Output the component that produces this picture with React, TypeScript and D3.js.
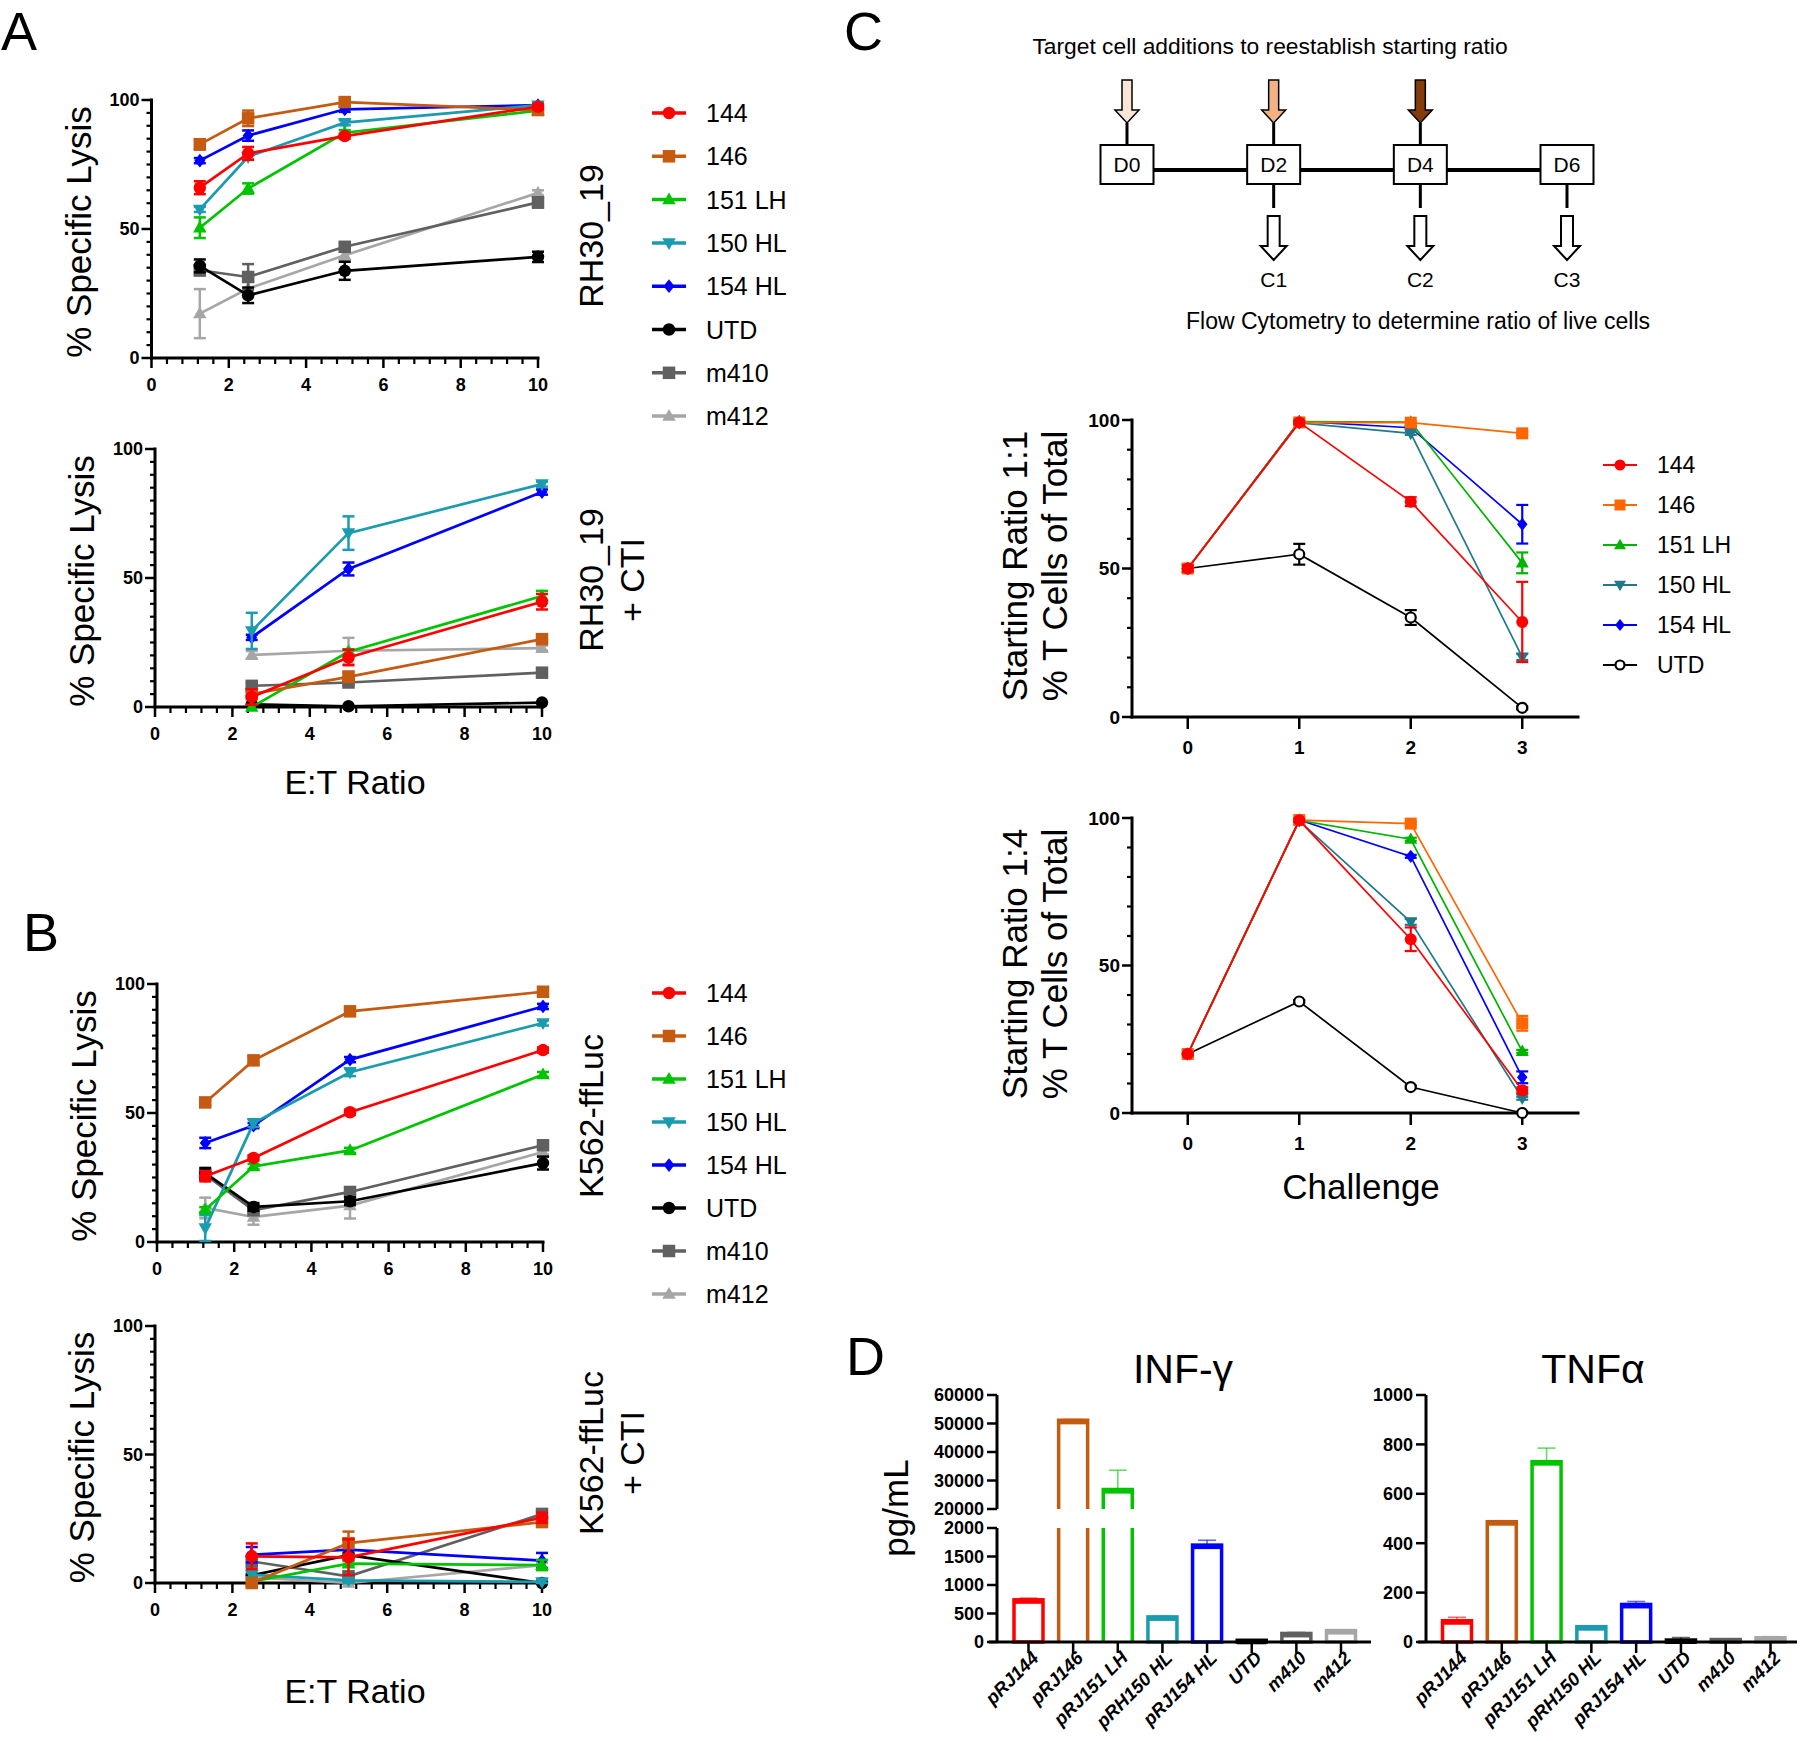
import React from 'react';
import * as d3 from 'd3';

const FONT = "'Liberation Sans', Arial, Helvetica, sans-serif";

// ---------------- DATA ----------------
const seriesNames = ['144', '146', '151 LH', '150 HL', '154 HL', 'UTD', 'm410', 'm412'];
const seriesColors = ['#ff0000', '#c55a11', '#00c400', '#1a9bb0', '#0000ff', '#000000', '#606060', '#a6a6a6'];
const seriesShapes = ['circle', 'square', 'triangle', 'triangleDown', 'diamond', 'circle', 'square', 'triangle'];

const etFull = [1.25, 2.5, 5, 10];
const etCti = [2.5, 5, 10];

const rh30Mean = [
  [66, 79.3, 86, 97.4],
  [82.8, 92.9, 99.2, 96.1],
  [50.5, 65.7, 87.3, 95.9],
  [57.6, 78, 91.2, 98],
  [76.5, 86.2, 96.4, 98],
  [35.7, 24.3, 33.8, 39.2],
  [34, 31.4, 43.1, 60.3],
  [17.2, 26.9, 39.8, 64],
];
const rh30Err = [
  [2.5, 2.5, 1, 1],
  [2, 3, 1, 1],
  [4, 2, 1, 1],
  [1, 1, 1, 1],
  [1, 2, 1, 1],
  [2.5, 3, 3.5, 2],
  [2, 5, 1.5, 2],
  [9.5, 3, 2, 1],
];
const rh30CtiMean = [
  [3.9, 19.2, 40.8],
  [5, 11.7, 26.3],
  [0, 21.4, 43],
  [29.5, 67.4, 86.4],
  [27, 53.5, 83.3],
  [1, 0.3, 1.7],
  [8.2, 9.5, 13.3],
  [20.2, 21.8, 22.8],
];
const rh30CtiErr = [
  [3, 3, 3],
  [1, 2, 1],
  [0, 1, 2],
  [7, 6.5, 1],
  [1, 2.5, 1],
  [0, 0, 0],
  [1, 1, 1.5],
  [1.5, 5, 1],
];
const k562Mean = [
  [25.5, 32.6, 50.3, 74.4],
  [54.1, 70.4, 89.4, 97],
  [12.5, 29.3, 35.5, 64.9],
  [5.4, 46.1, 65.8, 84.9],
  [38.4, 45.1, 70.7, 91.3],
  [26.7, 13.6, 15.8, 30.6],
  [26.1, 12.3, 19.4, 37.5],
  [13.2, 9.7, 14.1, 34.9],
];
const k562Err = [
  [2, 1, 1, 1],
  [1, 1.5, 1, 1],
  [1, 1, 1, 1],
  [5, 1.5, 1.5, 1],
  [2, 1, 1, 1],
  [2, 1.5, 1.5, 2.5],
  [1, 1, 1.5, 1.5],
  [4, 3, 5, 1],
];
const k562CtiMean = [
  [10.4, 10, 25.4],
  [0, 15.5, 23.7],
  [0.6, 7.5, 7],
  [3.2, 1, 0.4],
  [11, 13, 8.7],
  [3, 10.8, 0],
  [8.4, 2.6, 26.8],
  [2.2, 0, 6.9],
];
const k562CtiErr = [
  [5, 7, 2],
  [0, 4.5, 1],
  [0, 1, 2],
  [1, 1, 1],
  [3, 4, 3],
  [0, 1, 0],
  [2, 1, 2],
  [1, 0, 1],
];

const cNames = ['144', '146', '151 LH', '150 HL', '154 HL', 'UTD'];
const cColors = ['#ff0000', '#ff6600', '#00b400', '#1f7a8c', '#0000ff', '#000000'];
const cShapes = ['circle', 'square', 'triangle', 'triangleDown', 'diamond', 'openCircle'];
const challenges = [0, 1, 2, 3];
const ratio11Mean = [
  [50, 99.2, 72.5, 32],
  [50, 99.2, 99.1, 95.5],
  [50, 99.5, 99.3, 51.9],
  [50, 99, 95.5, 20.2],
  [50, 99.5, 97.4, 64.9],
  [50, 54.8, 33.5, 3.1],
];
const ratio11Err = [
  [1, 0.5, 1.5, 13.5],
  [0, 0, 0.5, 0.5],
  [0, 0, 0, 3.5],
  [0, 0, 0.5, 1],
  [0, 0, 0.5, 6.5],
  [0, 3.5, 2.5, 0.5],
];
const ratio14Mean = [
  [20, 99.2, 58.9, 7.7],
  [20, 99.3, 98.1, 30.4],
  [20, 99.2, 92.8, 20.9],
  [20, 99, 64.8, 5],
  [20, 99.3, 87, 12.1],
  [20, 37.8, 8.8, 0],
];
const ratio14Err = [
  [0.5, 0.5, 4, 1],
  [0, 0, 0.5, 2.5],
  [0, 0, 0.5, 0.5],
  [0, 0, 1, 0.5],
  [0, 0, 0.5, 2],
  [0, 0.5, 0.5, 0.5],
];

const cytoCats = ['pRJ144', 'pRJ146', 'pRJ151 LH', 'pRH150 HL', 'pRJ154 HL', 'UTD', 'm410', 'm412'];
const cytoColors = ['#ff0000', '#c55a11', '#00c400', '#1a9bb0', '#0000ff', '#000000', '#606060', '#a6a6a6'];
const infMean = [740, 51100, 26800, 440, 1700, 30, 150, 200];
const infErr = [30, 300, 6800, 15, 85, 5, 20, 10];
const tnfMean = [86, 487, 730, 62, 152, 8, 10, 17];
const tnfErr = [14, 4, 55, 3, 12, 10, 3, 5];

const infLowTicks = [0, 500, 1000, 1500, 2000];
const infHighTicks = [20000, 30000, 40000, 50000, 60000];
const tnfTicks = [0, 200, 400, 600, 800, 1000];

const diagramDays = ['D0', 'D2', 'D4', 'D6'];
const additionColors = ['#fbe5d6', '#f4b183', '#843c0c', null];
const readouts = [null, 'C1', 'C2', 'C3'];

// ---------------- HELPERS ----------------
function Marker({ shape, x, y, size, color }: any) {
  const s = size;
  if (shape === 'circle') return <circle cx={x} cy={y} r={s / 2} fill={color} />;
  if (shape === 'openCircle')
    return <circle cx={x} cy={y} r={s / 2 - 1} fill="#fff" stroke={color} strokeWidth={2.2} />;
  if (shape === 'square') return <rect x={x - s / 2} y={y - s / 2} width={s} height={s} fill={color} />;
  if (shape === 'triangle') {
    const h = s * 0.95;
    return <path d={`M${x},${y - h * 0.6}L${x + s / 2 + 0.5},${y + h * 0.4}L${x - s / 2 - 0.5},${y + h * 0.4}Z`} fill={color} />;
  }
  if (shape === 'triangleDown') {
    const h = s * 0.95;
    return <path d={`M${x},${y + h * 0.6}L${x + s / 2 + 0.5},${y - h * 0.4}L${x - s / 2 - 0.5},${y - h * 0.4}Z`} fill={color} />;
  }
  if (shape === 'diamond') {
    const r = s * 0.55;
    return <path d={`M${x},${y - r}L${x + r * 0.8},${y}L${x},${y + r}L${x - r * 0.8},${y}Z`} fill={color} />;
  }
  return null;
}

function LineChart(p: any) {
  const x = d3.scaleLinear().domain(p.xDomain).range([p.left, p.right]);
  const y = d3.scaleLinear().domain([0, 100]).range([p.bottom, p.top]);
  const line = d3
    .line<[number, number]>()
    .x((d) => x(d[0]))
    .y((d) => y(d[1]));
  const tickFont = p.tickFont || 18;
  return (
    <g>
      <line x1={x(p.xDomain[0])} x2={x(p.xDomain[1])} y1={p.bottom} y2={p.bottom} stroke="#000" strokeWidth={3} strokeLinecap="square" />
      <line x1={p.left} x2={p.left} y1={p.top} y2={p.bottom} stroke="#000" strokeWidth={3} strokeLinecap="square" />
      {p.yMinor.map((v: number) => (
        <line key={'ym' + v} x1={p.left - 5} x2={p.left} y1={y(v)} y2={y(v)} stroke="#000" strokeWidth={2.2} />
      ))}
      {p.yMajor.map((v: number) => (
        <g key={'yM' + v}>
          <line x1={p.left - 10} x2={p.left} y1={y(v)} y2={y(v)} stroke="#000" strokeWidth={2.5} />
          <text x={p.left - 12} y={y(v)} dy="0.36em" textAnchor="end" fontSize={tickFont} fontWeight="bold">
            {v}
          </text>
        </g>
      ))}
      {p.xMinor.map((v: number) => (
        <line key={'xm' + v} x1={x(v)} x2={x(v)} y1={p.bottom} y2={p.bottom + 6} stroke="#000" strokeWidth={2.2} />
      ))}
      {p.xMajor.map((v: number) => (
        <g key={'xM' + v}>
          <line x1={x(v)} x2={x(v)} y1={p.bottom} y2={p.bottom + p.xTickLen} stroke="#000" strokeWidth={2.5} />
          <text x={x(v)} y={p.bottom + p.xLabelOff} textAnchor="middle" fontSize={tickFont} fontWeight="bold">
            {v}
          </text>
        </g>
      ))}
      {p.order.map((i: number) => {
        const pts: [number, number][] = p.xs.map((xv: number, j: number) => [xv, p.means[i][j]]);
        const col = p.colors[i];
        return (
          <g key={'s' + i}>
            <path d={line(pts) || ''} fill="none" stroke={col} strokeWidth={p.lineW} />
            {pts.map((pt, j) => {
              const e = p.errs[i][j];
              if (!e) return null;
              const cx = x(pt[0]);
              const lo = Math.max(0, pt[1] - e);
              const hi = pt[1] + e;
              return (
                <g key={'e' + j} stroke={col} strokeWidth={p.errW}>
                  <line x1={cx} x2={cx} y1={y(lo)} y2={y(hi)} />
                  <line x1={cx - p.capW / 2} x2={cx + p.capW / 2} y1={y(hi)} y2={y(hi)} />
                  <line x1={cx - p.capW / 2} x2={cx + p.capW / 2} y1={y(lo)} y2={y(lo)} />
                </g>
              );
            })}
            {pts.map((pt, j) => (
              <Marker key={'m' + j} shape={p.shapes[i]} x={x(pt[0])} y={y(pt[1])} size={p.mSize} color={col} />
            ))}
          </g>
        );
      })}
    </g>
  );
}

function Legend({ x, y, step, names, colors, shapes, fontSize, lineW, mSize }: any) {
  return (
    <g>
      {names.map((n: string, i: number) => {
        const yy = y + i * step;
        return (
          <g key={n}>
            <line x1={x - 17} x2={x + 17} y1={yy} y2={yy} stroke={colors[i]} strokeWidth={lineW} />
            <Marker shape={shapes[i]} x={x} y={yy} size={mSize} color={colors[i]} />
            <text x={x + 37} y={yy} dy="0.36em" fontSize={fontSize}>
              {n}
            </text>
          </g>
        );
      })}
    </g>
  );
}

function RotLabel({ x, cy, lines, fontSize, gap }: any) {
  return (
    <g>
      {lines.map((t: string, i: number) => (
        <text key={i} transform={`translate(${x + i * gap},${cy}) rotate(-90)`} textAnchor="middle" fontSize={fontSize}>
          {t}
        </text>
      ))}
    </g>
  );
}

// ---------------- LAYOUT ----------------
const abLayout = [
  { left: 151.5, right: 538, top: 100, bottom: 358, xs: etFull, means: rh30Mean, errs: rh30Err, label: ['RH30_19'], labelCy: 236 },
  { left: 155, right: 542, top: 449, bottom: 707, xs: etCti, means: rh30CtiMean, errs: rh30CtiErr, label: ['RH30_19', '+ CTI'], labelCy: 580 },
  { left: 157, right: 543, top: 984, bottom: 1242, xs: etFull, means: k562Mean, errs: k562Err, label: ['K562-ffLuc'], labelCy: 1116 },
  { left: 155, right: 542, top: 1326, bottom: 1583, xs: etCti, means: k562CtiMean, errs: k562CtiErr, label: ['K562-ffLuc', '+ CTI'], labelCy: 1453 },
];
const abOrder = [7, 6, 5, 4, 3, 2, 1, 0];
const cOrder = [5, 4, 3, 2, 1, 0];

function Diagram() {
  const xd = d3.scalePoint().domain(diagramDays).range([1127, 1567]);
  const boxW = 53;
  const boxTop = 145;
  const boxBot = 184;
  const lineY = 170;
  return (
    <g>
      <text x={1270} y={54} textAnchor="middle" fontSize={22.8}>
        Target cell additions to reestablish starting ratio
      </text>
      <line x1={(xd('D0') as number) + boxW / 2} x2={(xd('D6') as number) - boxW / 2} y1={lineY} y2={lineY} stroke="#000" strokeWidth={4} />
      {diagramDays.map((d, i) => {
        const cx = xd(d) as number;
        const col = additionColors[i];
        const rd = readouts[i];
        return (
          <g key={d}>
            {col && (
              <g>
                <path
                  d={`M${cx - 5},80L${cx + 5},80L${cx + 5},110L${cx + 12},110L${cx},123L${cx - 12},110L${cx - 5},110Z`}
                  fill={col}
                  stroke="#000"
                  strokeWidth={1.5}
                />
                <line x1={cx} x2={cx} y1={123} y2={boxTop} stroke="#000" strokeWidth={3} />
              </g>
            )}
            <rect x={cx - boxW / 2} y={boxTop} width={boxW} height={boxBot - boxTop} fill="#fff" stroke="#000" strokeWidth={2} />
            <text x={cx} y={172} textAnchor="middle" fontSize={21}>
              {d}
            </text>
            {rd && (
              <g>
                <line x1={cx} x2={cx} y1={boxBot} y2={208} stroke="#000" strokeWidth={3} />
                <path
                  d={`M${cx - 6},216L${cx + 6},216L${cx + 6},246L${cx + 13},246L${cx},260L${cx - 13},246L${cx - 6},246Z`}
                  fill="#fff"
                  stroke="#000"
                  strokeWidth={2}
                />
                <text x={cx} y={287} textAnchor="middle" fontSize={21}>
                  {rd}
                </text>
              </g>
            )}
          </g>
        );
      })}
      <text x={1418} y={329} textAnchor="middle" fontSize={23}>
        Flow Cytometry to determine ratio of live cells
      </text>
    </g>
  );
}

function BarShape({ xc, w, yBase, yTop, yBreakLow, yBreakHigh, color, e }: any) {
  const xl = xc - w / 2;
  const xr = xc + w / 2;
  return (
    <g>
      {yBreakLow == null ? (
        <rect x={xl} y={yTop} width={w} height={Math.max(0.5, yBase - yTop)} fill="#fff" stroke={color} strokeWidth={3.5} />
      ) : (
        <g fill="none" stroke={color} strokeWidth={3.5}>
          <path d={`M${xl},${yBase}L${xl},${yBreakLow}M${xr},${yBreakLow}L${xr},${yBase}`} />
          <path d={`M${xl},${yBreakHigh}L${xl},${yTop}L${xr},${yTop}L${xr},${yBreakHigh}`} />
        </g>
      )}
      <line x1={xl} x2={xr} y1={yTop + 1.5} y2={yTop + 1.5} stroke={color} strokeWidth={5} />
      {e != null && (
        <g stroke={color} strokeOpacity={0.6} strokeWidth={1.6}>
          <line x1={xc} x2={xc} y1={yTop} y2={e} />
          <line x1={xc - 9} x2={xc + 9} y1={e} y2={e} />
        </g>
      )}
    </g>
  );
}

function XCatLabels({ xs, y0 }: any) {
  return (
    <g>
      {cytoCats.map((c) => {
        const xc = xs(c) as number;
        return (
          <g key={c}>
            <line x1={xc} x2={xc} y1={y0} y2={y0 + 11} stroke="#000" strokeWidth={2.5} />
            <text
              transform={`translate(${xc + 2},${y0 + 8}) rotate(-45)`}
              textAnchor="end"
              dy="0.7em"
              fontSize={18.5}
              fontWeight="bold"
              fontStyle="italic"
            >
              {c}
            </text>
          </g>
        );
      })}
    </g>
  );
}

function InfChart() {
  const xs = d3.scalePoint().domain(cytoCats).range([1028.5, 1341]);
  const yLow = d3.scaleLinear().domain([0, 2000]).range([1642, 1528]);
  const yHigh = d3.scaleLinear().domain([20000, 60000]).range([1509, 1395]);
  const axX = 997;
  const w = 29;
  return (
    <g>
      <line x1={axX} x2={axX} y1={1395} y2={1509} stroke="#000" strokeWidth={3} />
      <line x1={axX} x2={axX} y1={1528} y2={1642} stroke="#000" strokeWidth={3} />
      {infHighTicks.map((t) => (
        <g key={t}>
          <line x1={axX - 10} x2={axX} y1={yHigh(t)} y2={yHigh(t)} stroke="#000" strokeWidth={2.5} />
          <text x={axX - 13} y={yHigh(t)} dy="0.36em" textAnchor="end" fontSize={18} fontWeight="bold">
            {t}
          </text>
        </g>
      ))}
      {infLowTicks.map((t) => (
        <g key={t}>
          <line x1={axX - 10} x2={axX} y1={yLow(t)} y2={yLow(t)} stroke="#000" strokeWidth={2.5} />
          <text x={axX - 13} y={yLow(t)} dy="0.36em" textAnchor="end" fontSize={18} fontWeight="bold">
            {t}
          </text>
        </g>
      ))}
      {cytoCats.map((c, i) => {
        const v = infMean[i];
        const ev = v + infErr[i];
        const big = v > 2000;
        const yTop = big ? yHigh(v) : yLow(v);
        const ye = ev > 2000 ? yHigh(ev) : yLow(ev);
        return (
          <BarShape
            key={c}
            xc={xs(c)}
            w={w}
            yBase={1642}
            yTop={yTop}
            yBreakLow={big ? yLow(2000) : null}
            yBreakHigh={big ? yHigh(20000) : null}
            color={cytoColors[i]}
            e={ye}
          />
        );
      })}
      <line x1={989} x2={1371} y1={1642} y2={1642} stroke="#000" strokeWidth={3} />
      <XCatLabels xs={xs} y0={1642} />
      <text x={1183} y={1383} textAnchor="middle" fontSize={41}>
        INF-γ
      </text>
      <text transform={`translate(908,1508) rotate(-90)`} textAnchor="middle" fontSize={35}>
        pg/mL
      </text>
    </g>
  );
}

function TnfChart() {
  const xs = d3.scalePoint().domain(cytoCats).range([1457, 1770.5]);
  const y = d3.scaleLinear().domain([0, 1000]).range([1642, 1395]);
  const axX = 1426;
  const w = 29;
  return (
    <g>
      <line x1={axX} x2={axX} y1={1395} y2={1642} stroke="#000" strokeWidth={3} />
      {tnfTicks.map((t) => (
        <g key={t}>
          <line x1={axX - 10} x2={axX} y1={y(t)} y2={y(t)} stroke="#000" strokeWidth={2.5} />
          <text x={axX - 13} y={y(t)} dy="0.36em" textAnchor="end" fontSize={18} fontWeight="bold">
            {t}
          </text>
        </g>
      ))}
      {cytoCats.map((c, i) => (
        <BarShape
          key={c}
          xc={xs(c)}
          w={w}
          yBase={1642}
          yTop={y(tnfMean[i])}
          yBreakLow={null}
          color={cytoColors[i]}
          e={y(tnfMean[i] + tnfErr[i])}
        />
      ))}
      <line x1={1418} x2={1797} y1={1642} y2={1642} stroke="#000" strokeWidth={3} />
      <XCatLabels xs={xs} y0={1642} />
      <text x={1593} y={1383} textAnchor="middle" fontSize={41}>
        TNFα
      </text>
    </g>
  );
}

export default function App() {
  const abXMajor = d3.range(0, 11, 2);
  const abXMinor = d3.range(0, 10.01, 0.4).filter((v) => Math.abs(v / 2 - Math.round(v / 2)) > 0.01);
  const abYMajor = [0, 50, 100];
  const abYMinor = d3.range(0, 101, 5).filter((v) => v % 50 !== 0);
  const cYMinor = d3.range(0, 101, 10).filter((v) => v % 50 !== 0);
  return (
    <svg
      width={1800}
      height={1741}
      viewBox="0 0 1800 1741"
      style={{ position: 'absolute', left: 0, top: 0, background: '#fff' }}
      fontFamily={FONT}
    >
      <rect width={1800} height={1741} fill="#fff" />
      <text x={1} y={50} fontSize={54}>A</text>
      <text x={23} y={951} fontSize={54}>B</text>
      <text x={844} y={50} fontSize={54}>C</text>
      <text x={846} y={1375} fontSize={54}>D</text>

      {abLayout.map((L, k) => (
        <g key={k}>
          <LineChart
            left={L.left}
            right={L.right}
            top={L.top}
            bottom={L.bottom}
            xDomain={[0, 10]}
            xMajor={abXMajor}
            xMinor={abXMinor}
            yMajor={abYMajor}
            yMinor={abYMinor}
            xTickLen={10}
            xLabelOff={33}
            xs={L.xs}
            means={L.means}
            errs={L.errs}
            colors={seriesColors}
            shapes={seriesShapes}
            order={abOrder}
            lineW={2.7}
            errW={2.5}
            capW={12}
            mSize={12.5}
          />
          <RotLabel x={L.left - 61} cy={(L.top + L.bottom) / 2 + 3} lines={['% Specific Lysis']} fontSize={35} gap={0} />
          <RotLabel x={603} cy={L.labelCy} lines={L.label} fontSize={34} gap={41} />
        </g>
      ))}
      <text x={355} y={794} textAnchor="middle" fontSize={34}>E:T Ratio</text>
      <text x={355} y={1703} textAnchor="middle" fontSize={34}>E:T Ratio</text>
      <Legend x={669} y={113} step={43.3} names={seriesNames} colors={seriesColors} shapes={seriesShapes} fontSize={25} lineW={3.5} mSize={12.5} />
      <Legend x={669} y={993} step={43} names={seriesNames} colors={seriesColors} shapes={seriesShapes} fontSize={25} lineW={3.5} mSize={12.5} />

      <Diagram />

      <LineChart
        left={1132}
        right={1578}
        top={420}
        bottom={717}
        xDomain={[-0.5, 3.5]}
        xMajor={challenges}
        xMinor={[]}
        yMajor={abYMajor}
        yMinor={cYMinor}
        xTickLen={12}
        xLabelOff={37}
        tickFont={19}
        xs={challenges}
        means={ratio11Mean}
        errs={ratio11Err}
        colors={cColors}
        shapes={cShapes}
        order={cOrder}
        lineW={1.7}
        errW={2.2}
        capW={12}
        mSize={12}
      />
      <RotLabel x={1027} cy={566} lines={['Starting Ratio 1:1', '% T Cells of Total']} fontSize={35} gap={40} />
      <Legend x={1620} y={465} step={40} names={cNames} colors={cColors} shapes={cShapes} fontSize={23} lineW={2} mSize={11} />

      <LineChart
        left={1132}
        right={1578}
        top={818}
        bottom={1113}
        xDomain={[-0.5, 3.5]}
        xMajor={challenges}
        xMinor={[]}
        yMajor={abYMajor}
        yMinor={cYMinor}
        xTickLen={12}
        xLabelOff={37}
        tickFont={19}
        xs={challenges}
        means={ratio14Mean}
        errs={ratio14Err}
        colors={cColors}
        shapes={cShapes}
        order={cOrder}
        lineW={1.7}
        errW={2.2}
        capW={12}
        mSize={12}
      />
      <RotLabel x={1027} cy={964} lines={['Starting Ratio 1:4', '% T Cells of Total']} fontSize={35} gap={40} />
      <text x={1361} y={1199} textAnchor="middle" fontSize={35}>Challenge</text>

      <InfChart />
      <TnfChart />
    </svg>
  );
}
